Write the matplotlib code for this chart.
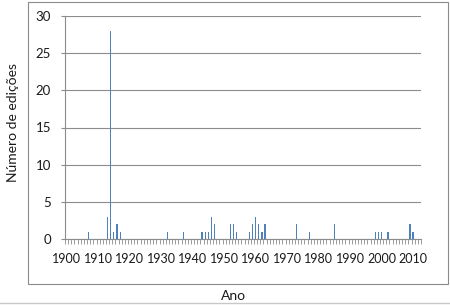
import matplotlib
matplotlib.use("Agg")
import matplotlib.pyplot as plt
from matplotlib.patches import Rectangle
from matplotlib.lines import Line2D
import numpy as np

# editions per year (years without editions are zero)
years = [1907, 1913, 1914, 1915, 1916, 1917, 1932, 1937, 1943, 1944,
         1945, 1946, 1947, 1952, 1953, 1954, 1958, 1959, 1960, 1961,
         1962, 1963, 1973, 1977, 1985, 1998, 1999, 2000, 2002, 2009, 2010]
editions = [1, 3, 28, 1, 2, 1, 1, 1, 1, 1,
            1, 3, 2, 2, 2, 1, 1, 2, 3, 2,
            1, 2, 2, 1, 2, 1, 1, 1, 1, 2, 1]
first_year, last_year = 1900, 2012
year_labels = list(range(1900, 2011, 10))
y_ticks = [0, 5, 10, 15, 20, 25, 30]

plt.rcParams['font.family'] = ['Lato', 'DejaVu Sans']
text_color = '#1a1a1a'
grid_color = '#8c8c8c'

fig = plt.figure(figsize=(4.5, 3.05), dpi=100)
W, H = 450, 305

# outer chart border like excel
fig.patches.append(Rectangle((28 / W, 1 - 284 / H), 420 / W, 282 / H,
                             transform=fig.transFigure, fill=False,
                             edgecolor='#8a8a8a', linewidth=0.8))
fig.lines.append(Line2D([0, 1], [1 - 303 / H, 1 - 303 / H], transform=fig.transFigure,
                        color='#c8c8c8', linewidth=1))

ax = fig.add_axes([65 / W, 1 - 239 / H, 356 / W, 223 / H])
ax.bar(years, editions, width=0.4, color='#4F81BD', linewidth=0, zorder=3)

ax.set_xlim(first_year - 0.5, last_year + 0.5)
ax.set_ylim(0, 30)
ax.set_yticks(y_ticks)
ax.set_xticks(year_labels)
ax.set_xticklabels([str(y) for y in year_labels])
ax.set_xticks(np.arange(first_year - 0.5, last_year + 1), minor=True)

ax.yaxis.grid(True, color=grid_color, linewidth=0.8, zorder=0)
for s in ['top', 'right']:
    ax.spines[s].set_visible(False)
for s in ['left', 'bottom']:
    ax.spines[s].set_color(grid_color)
    ax.spines[s].set_linewidth(0.8)

ax.tick_params(axis='y', length=3, color=grid_color, width=0.8, pad=7,
               labelsize=9.5, labelcolor=text_color)
ax.tick_params(axis='x', which='major', length=0, pad=10,
               labelsize=9, labelcolor=text_color)
ax.tick_params(axis='x', which='minor', length=3.5, color=grid_color, width=0.6)

fig.text(13 / W, 1 - 123 / H, 'Número de edições', rotation=90, ha='center',
         va='center', fontsize=10, color=text_color)
fig.text(234 / W, 1 - 296 / H, 'Ano', ha='center', va='center',
         fontsize=10, color=text_color)

fig.savefig('out.png', dpi=100)
